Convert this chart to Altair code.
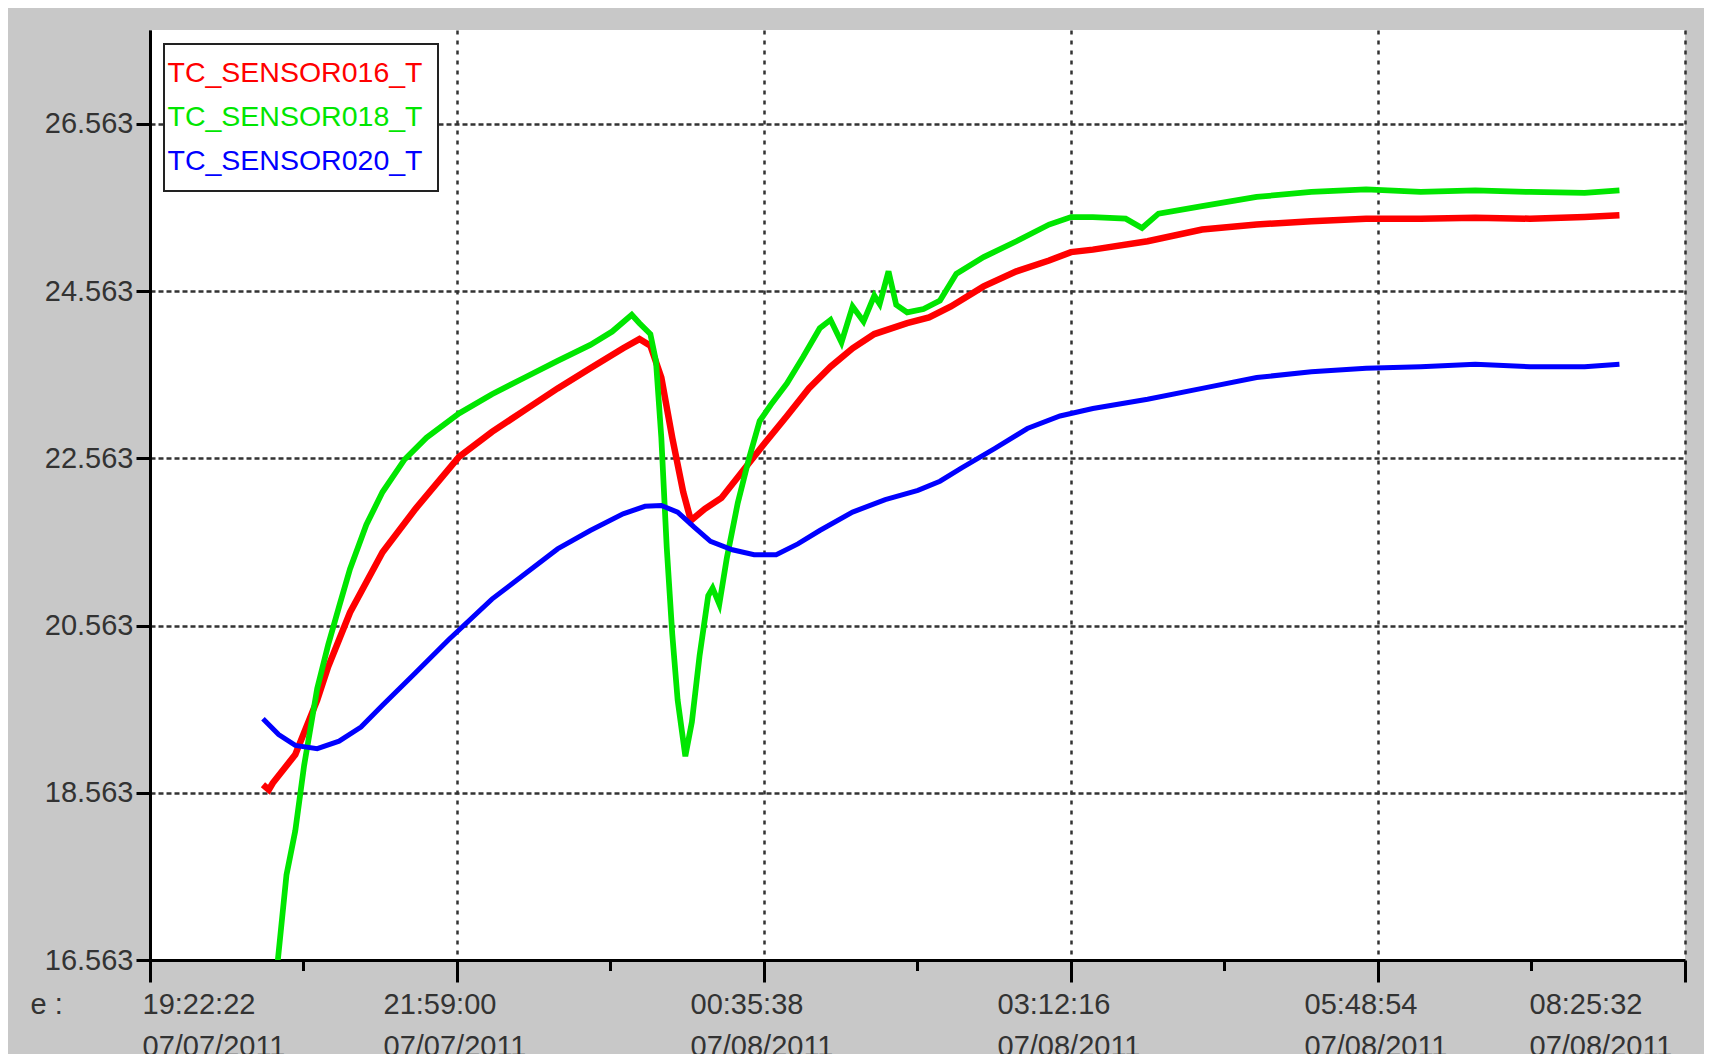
import altair as alt
import pandas as pd

FONT = "Liberation Sans, Arial"

SERIES = ["TC_SENSOR016_T", "TC_SENSOR018_T", "TC_SENSOR020_T"]
COLORS = ["#ff0000", "#00e600", "#0000ff"]
WIDTHS = [6.5, 5, 7]

TICK_TIMES = ["2011-07-07T19:22:22", "2011-07-07T21:59:00", "2011-07-08T00:35:38",
              "2011-07-08T03:12:16", "2011-07-08T05:48:54", "2011-07-08T08:25:32"]
MINOR_TIMES = ["2011-07-07T20:40:41", "2011-07-07T23:17:19", "2011-07-08T01:53:57",
               "2011-07-08T04:30:35", "2011-07-08T07:07:13"]
Y_TICKS = [16.563, 18.563, 20.563, 22.563, 24.563, 26.563]
Y_DOMAIN = [16.563, 27.687]

s016_time = ["2011-07-07T20:20:00", "2011-07-07T20:23:00", "2011-07-07T20:25:00", "2011-07-07T20:36:30",
             "2011-07-07T20:47:40", "2011-07-07T20:53:15", "2011-07-07T21:04:25", "2011-07-07T21:21:00",
             "2011-07-07T21:37:50", "2011-07-07T22:00:00", "2011-07-07T22:16:50", "2011-07-07T22:33:35",
             "2011-07-07T22:50:20", "2011-07-07T23:07:00", "2011-07-07T23:23:45", "2011-07-07T23:32:05",
             "2011-07-07T23:37:40", "2011-07-07T23:43:15", "2011-07-07T23:48:50", "2011-07-07T23:54:25",
             "2011-07-07T23:58:20", "2011-07-08T00:05:30", "2011-07-08T00:13:55", "2011-07-08T00:25:05",
             "2011-07-08T00:36:10", "2011-07-08T00:47:20", "2011-07-08T00:58:30", "2011-07-08T01:09:35",
             "2011-07-08T01:20:50", "2011-07-08T01:31:55", "2011-07-08T01:48:40", "2011-07-08T01:59:50",
             "2011-07-08T02:11:00", "2011-07-08T02:27:40", "2011-07-08T02:44:25", "2011-07-08T03:01:05",
             "2011-07-08T03:12:15", "2011-07-08T03:23:25", "2011-07-08T03:51:20", "2011-07-08T04:19:10",
             "2011-07-08T04:47:00", "2011-07-08T05:14:55", "2011-07-08T05:42:50", "2011-07-08T06:10:40",
             "2011-07-08T06:38:30", "2011-07-08T07:06:25", "2011-07-08T07:34:20", "2011-07-08T07:52:05"]
s016_value = [18.66, 18.60, 18.68, 19.02, 19.67, 20.07, 20.72, 21.44,
              21.96, 22.58, 22.88, 23.14, 23.40, 23.64, 23.88, 23.99,
              23.91, 23.53, 22.81, 22.16, 21.82, 21.96, 22.09, 22.42,
              22.75, 23.07, 23.40, 23.66, 23.88, 24.05, 24.18, 24.25,
              24.38, 24.62, 24.80, 24.93, 25.03, 25.06, 25.16, 25.30,
              25.36, 25.40, 25.43, 25.43, 25.44, 25.43, 25.45, 25.47]

s018_time = ["2011-07-07T20:27:35", "2011-07-07T20:32:00", "2011-07-07T20:36:30", "2011-07-07T20:41:00",
             "2011-07-07T20:47:40", "2011-07-07T20:53:15", "2011-07-07T20:58:50", "2011-07-07T21:04:25",
             "2011-07-07T21:12:45", "2011-07-07T21:21:00", "2011-07-07T21:32:15", "2011-07-07T21:43:25",
             "2011-07-07T22:00:00", "2011-07-07T22:16:50", "2011-07-07T22:33:35", "2011-07-07T22:50:20",
             "2011-07-07T23:07:00", "2011-07-07T23:18:10", "2011-07-07T23:28:10", "2011-07-07T23:32:05",
             "2011-07-07T23:37:40", "2011-07-07T23:40:30", "2011-07-07T23:43:15", "2011-07-07T23:46:00",
             "2011-07-07T23:48:50", "2011-07-07T23:51:35", "2011-07-07T23:55:30", "2011-07-07T23:58:50",
             "2011-07-08T00:02:45", "2011-07-08T00:07:10", "2011-07-08T00:09:25", "2011-07-08T00:12:50",
             "2011-07-08T00:16:40", "2011-07-08T00:22:15", "2011-07-08T00:27:50", "2011-07-08T00:33:25",
             "2011-07-08T00:39:00", "2011-07-08T00:47:20", "2011-07-08T00:55:40", "2011-07-08T01:04:05",
             "2011-07-08T01:09:35", "2011-07-08T01:15:10", "2011-07-08T01:20:50", "2011-07-08T01:26:25",
             "2011-07-08T01:31:55", "2011-07-08T01:34:40", "2011-07-08T01:39:10", "2011-07-08T01:43:05",
             "2011-07-08T01:48:40", "2011-07-08T01:57:00", "2011-07-08T02:05:25", "2011-07-08T02:13:45",
             "2011-07-08T02:27:40", "2011-07-08T02:44:25", "2011-07-08T03:01:05", "2011-07-08T03:12:15",
             "2011-07-08T03:23:25", "2011-07-08T03:40:10", "2011-07-08T03:48:30", "2011-07-08T03:56:55",
             "2011-07-08T04:19:10", "2011-07-08T04:47:00", "2011-07-08T05:14:55", "2011-07-08T05:42:50",
             "2011-07-08T06:10:40", "2011-07-08T06:38:30", "2011-07-08T07:06:25", "2011-07-08T07:34:20",
             "2011-07-08T07:52:05"]
s018_value = [16.56, 17.58, 18.11, 18.89, 19.81, 20.33, 20.79, 21.24,
              21.77, 22.16, 22.55, 22.81, 23.10, 23.33, 23.53, 23.73,
              23.92, 24.08, 24.28, 24.18, 24.05, 23.73, 22.81, 21.50,
              20.46, 19.67, 19.00, 19.41, 20.20, 20.92, 21.01, 20.82,
              21.37, 22.03, 22.55, 23.01, 23.20, 23.46, 23.78, 24.12,
              24.22, 23.95, 24.38, 24.20, 24.51, 24.41, 24.80, 24.40,
              24.31, 24.35, 24.45, 24.77, 24.97, 25.16, 25.36, 25.45,
              25.45, 25.43, 25.32, 25.49, 25.58, 25.69, 25.75, 25.78,
              25.75, 25.77, 25.75, 25.74, 25.77]

s020_time = ["2011-07-07T20:20:00", "2011-07-07T20:28:00", "2011-07-07T20:36:30", "2011-07-07T20:47:40",
             "2011-07-07T20:58:50", "2011-07-07T21:10:00", "2011-07-07T21:21:00", "2011-07-07T21:37:50",
             "2011-07-07T21:54:35", "2011-07-07T22:16:50", "2011-07-07T22:33:35", "2011-07-07T22:50:20",
             "2011-07-07T23:07:00", "2011-07-07T23:23:45", "2011-07-07T23:34:55", "2011-07-07T23:43:15",
             "2011-07-07T23:51:35", "2011-07-08T00:00:00", "2011-07-08T00:08:20", "2011-07-08T00:19:30",
             "2011-07-08T00:30:35", "2011-07-08T00:41:50", "2011-07-08T00:52:55", "2011-07-08T01:04:05",
             "2011-07-08T01:20:50", "2011-07-08T01:37:30", "2011-07-08T01:54:10", "2011-07-08T02:05:25",
             "2011-07-08T02:16:30", "2011-07-08T02:33:15", "2011-07-08T02:50:00", "2011-07-08T03:06:40",
             "2011-07-08T03:23:25", "2011-07-08T03:51:20", "2011-07-08T04:19:10", "2011-07-08T04:47:00",
             "2011-07-08T05:14:55", "2011-07-08T05:42:50", "2011-07-08T06:10:40", "2011-07-08T06:38:30",
             "2011-07-08T07:06:25", "2011-07-08T07:34:20", "2011-07-08T07:52:05"]
s020_value = [19.45, 19.26, 19.13, 19.09, 19.18, 19.35, 19.61, 20.00,
              20.39, 20.88, 21.18, 21.48, 21.70, 21.90, 21.99, 22.00,
              21.92, 21.74, 21.57, 21.47, 21.41, 21.41, 21.54, 21.70,
              21.92, 22.07, 22.18, 22.29, 22.45, 22.68, 22.92, 23.07,
              23.16, 23.27, 23.40, 23.53, 23.60, 23.64, 23.66, 23.69,
              23.66, 23.66, 23.69]


def to_ms(strings):
    return [int(v) for v in (pd.to_datetime(strings, utc=True).asi8 // 10**6)]


frames = []
for name, times, vals in [(SERIES[0], s016_time, s016_value),
                          (SERIES[1], s018_time, s018_value),
                          (SERIES[2], s020_time, s020_value)]:
    frames.append(pd.DataFrame({"series": name, "t": to_ms(times), "value": vals}))
df = pd.concat(frames, ignore_index=True)

tick_ms = to_ms(TICK_TIMES)
minor_df = pd.DataFrame({"t": to_ms(MINOR_TIMES)})

label_color_expr = (
    f"datum.value == '{SERIES[0]}' ? '{COLORS[0]}' : "
    f"datum.value == '{SERIES[1]}' ? '{COLORS[1]}' : '{COLORS[2]}'"
)

TEXT_COLOR = "#333333"
GRID_COLOR = "#333333"

x_axis = alt.Axis(
    values=tick_ms,
    labelExpr="[utcFormat(datum.value, '%H:%M:%S'), utcFormat(datum.value, '%m/%d/%Y')]",
    labelAlign="left",
    labelOffset={"condition": [{"test": f"datum.value <= {tick_ms[0]}", "value": -8},
                               {"test": f"datum.value >= {tick_ms[-1]}", "value": -156}],
                 "value": -74},
    labelBaseline="top",
    labelPadding=8,
    labelLineHeight=42,
    labelLimit=0,
    labelFont=FONT, labelFontSize=29, labelColor=TEXT_COLOR,
    labelOverlap=False, labelFlush=False, labelBound=False,
    tickSize=22, tickWidth=3, tickColor="black",
    domainColor="black", domainWidth=3,
    grid=True, gridColor=GRID_COLOR, gridDash=[4, 6], gridWidth=2.5,
    title="e :", titleX=-120, titleY=44, titleAlign="left", titleBaseline="middle",
    titleAngle=0, titleFont=FONT, titleFontSize=29, titleFontWeight="normal", titleColor=TEXT_COLOR,
)

x_enc = alt.X("t:T", scale=alt.Scale(type="utc", domain=[tick_ms[0], tick_ms[-1]], nice=False),
              axis=x_axis)

y_enc = alt.Y("value:Q", scale=alt.Scale(domain=Y_DOMAIN, nice=False, zero=False),
              axis=alt.Axis(values=Y_TICKS, format=".3f", labelFont=FONT, labelFontSize=29,
                            labelColor=TEXT_COLOR, labelPadding=3, tickSize=14, tickWidth=3,
                            tickColor="black", domainColor="black", domainWidth=3,
                            grid=True, gridColor=GRID_COLOR, gridDash=[5, 3], gridWidth=2.5,
                            title=None))

lines = alt.Chart(df).mark_line(clip=True).encode(
    x=x_enc,
    y=y_enc,
    color=alt.Color("series:N", scale=alt.Scale(domain=SERIES, range=COLORS),
                    legend=alt.Legend(title=None, orient="none", legendX=14, legendY=14,
                                      direction="vertical", fillColor="white", strokeColor="#222222",
                                      padding=15, rowPadding=15, labelFont=FONT, labelFontSize=28.5,
                                      labelLimit=0, labelOffset={"expr": "-40"},
                                      labelColor={"expr": label_color_expr},
                                      symbolSize=0, symbolOpacity=0, symbolStrokeWidth=0,
                                      symbolType="circle")),
    strokeWidth=alt.StrokeWidth("series:N", scale=alt.Scale(domain=SERIES, range=WIDTHS), legend=None),
)

minor = alt.Chart(minor_df).mark_rule(color="black", strokeWidth=3).encode(
    x=x_enc, y=alt.value(930), y2=alt.value(941)
)

chart = alt.layer(lines, minor).properties(
    width=1535, height=930,
    autosize=alt.AutoSizeParams(type="none"),
    padding={"left": 142, "top": 22, "right": 19, "bottom": 94},
    background="#c8c8c8",
).configure_view(fill="white", strokeWidth=0).configure_legend(strokeWidth=2)

chart.save("out.html", embed_options={"renderer": "svg", "actions": False})
